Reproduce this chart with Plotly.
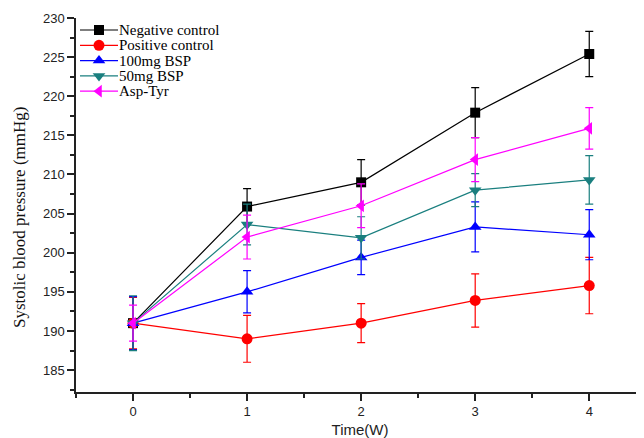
import plotly.graph_objects as go

weeks = [0, 1, 2, 3, 4]
tick_labels = ["0", "1", "2", "3", "4"]

series_names = ["Negative control", "Positive control", "100mg BSP", "50mg BSP", "Asp-Tyr"]
negative_control = [191.0, 205.9, 209.0, 217.9, 225.4]
negative_err = [3.4, 2.3, 2.9, 3.2, 2.9]
positive_control = [191.0, 189.0, 191.0, 193.9, 195.8]
positive_err = [3.3, 3.0, 2.5, 3.4, 3.6]
bsp_100 = [191.0, 195.0, 199.4, 203.3, 202.3]
bsp_100_err = [3.4, 2.7, 2.2, 3.2, 3.2]
bsp_50 = [191.0, 203.6, 201.9, 208.0, 209.3]
bsp_50_err = [3.5, 2.6, 2.7, 2.1, 3.1]
asp_tyr = [191.0, 202.0, 206.0, 211.9, 215.9]
asp_tyr_err = [2.3, 2.8, 2.8, 2.8, 2.65]

values = [negative_control, positive_control, bsp_100, bsp_50, asp_tyr]
errors = [negative_err, positive_err, bsp_100_err, bsp_50_err, asp_tyr_err]
colors = ["#000000", "#ff0000", "#0000ff", "#1a7f7f", "#ff00ff"]
symbols = ["square", "circle", "triangle-up", "triangle-down", "triangle-left"]
sizes = [10, 11, 11, 11, 11]

# page body has an 8px default margin, so the figure is sized to fit the window
FIG_W, FIG_H = 636, 430
ML, MR, MT, MB = 68, 0, 10, 46
PW, PH = FIG_W - ML - MR, FIG_H - MT - MB

fig = go.Figure()
for name, v, e, c, s, sz in zip(series_names, values, errors, colors, symbols, sizes):
    fig.add_trace(go.Scatter(
        x=weeks, y=v, name=name, mode="lines+markers", showlegend=False,
        line=dict(color=c, width=1.2),
        marker=dict(symbol=s, size=sz, color=c),
        error_y=dict(type="data", array=e, visible=True, color=c, thickness=1.2, width=4),
    ))

# compact legend drawn on an overlay axis measured in pixels of the plot area
row_gap = 15.3
first_row = 12
for i, (name, c, s, sz) in enumerate(zip(series_names, colors, symbols, sizes)):
    yy = first_row + i * row_gap
    fig.add_trace(go.Scatter(
        x=[4, 42], y=[yy, yy], xaxis="x2", yaxis="y2", mode="lines",
        line=dict(color=c, width=1.2), showlegend=False, hoverinfo="skip",
    ))
    fig.add_trace(go.Scatter(
        x=[23], y=[yy], xaxis="x2", yaxis="y2", mode="markers",
        marker=dict(symbol=s, size=sz, color=c), showlegend=False, hoverinfo="skip",
    ))
    fig.add_annotation(
        text=name, xref="x2", yref="y2", x=41, y=yy, xanchor="left", yanchor="middle",
        showarrow=False, font=dict(family="Liberation Serif", size=15, color="#000"),
    )

fig.update_layout(
    width=FIG_W, height=FIG_H,
    margin=dict(l=ML, r=MR, t=MT, b=MB),
    paper_bgcolor="white", plot_bgcolor="white",
    showlegend=False,
    font=dict(family="Liberation Sans", color="#222"),
    xaxis2=dict(overlaying="x", range=[0, PW], visible=False, fixedrange=True),
    yaxis2=dict(overlaying="y", range=[PH, 0], visible=False, fixedrange=True),
)
fig.update_layout(xaxis=dict(
    range=[-0.5, 4.48], tickmode="array", tickvals=weeks, ticktext=tick_labels,
    showline=True, linecolor="#222", linewidth=1.5, mirror=False,
    ticks="outside", ticklen=7, tickwidth=1.5, tickcolor="#222",
    minor=dict(ticks="outside", dtick=0.5, ticklen=4, tickwidth=1.5, tickcolor="#222"),
    showgrid=False, zeroline=False,
    tickfont=dict(family="Liberation Sans", size=13, color="#222"),
    title=dict(text="Time(W)", font=dict(family="Liberation Sans", size=15, color="#222"), standoff=7),
))
fig.update_layout(yaxis=dict(
    range=[182.2, 230], tickmode="linear", tick0=185, dtick=5,
    showline=True, linecolor="#222", linewidth=1.5, mirror=False,
    ticks="outside", ticklen=7, tickwidth=1.5, tickcolor="#222",
    minor=dict(ticks="outside", dtick=2.5, ticklen=4, tickwidth=1.5, tickcolor="#222"),
    showgrid=False, zeroline=False,
    tickfont=dict(family="Liberation Sans", size=13, color="#222"),
))
fig.add_annotation(
    text="Systolic blood pressure (mmHg)", textangle=-90,
    xref="paper", yref="paper", x=(12 - ML) / PW, y=(PH + MT - 210) / PH,
    xanchor="center", yanchor="middle", showarrow=False,
    font=dict(family="Liberation Serif", size=17, color="#111"),
)

fig.write_html("out.html")
